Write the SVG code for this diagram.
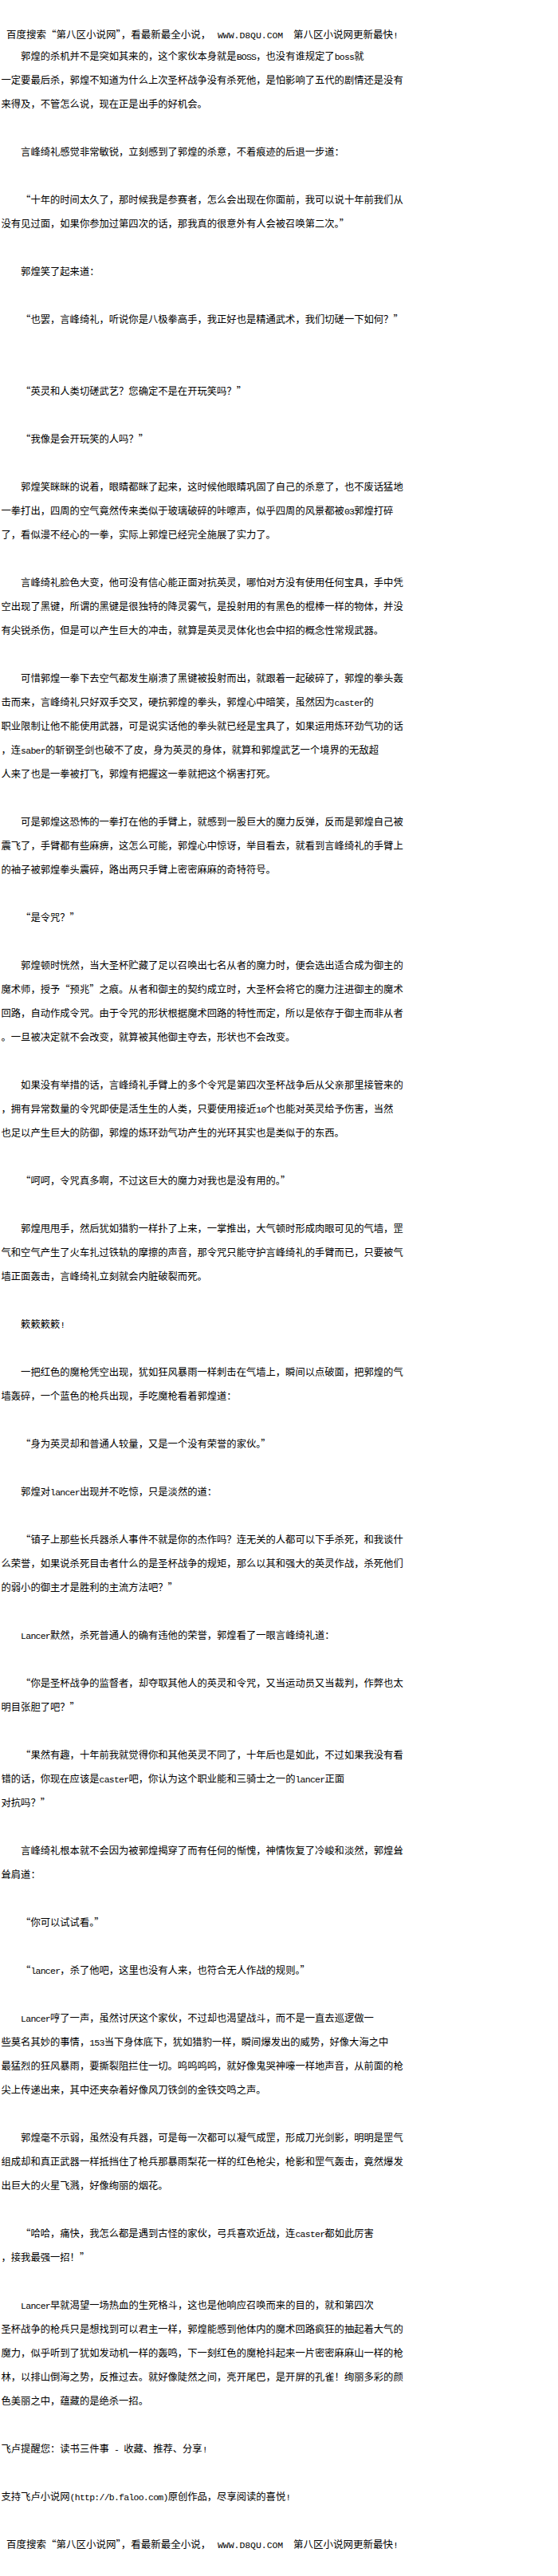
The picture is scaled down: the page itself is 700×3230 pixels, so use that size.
<svg xmlns="http://www.w3.org/2000/svg" width="700" height="3230" viewBox="0 0 700 3230">
<style>
text { font-family: "Noto Sans CJK SC", "Noto Sans CJK JP", sans-serif; font-size: 12.3px; fill: #000; }
.h { font-size: 12.5px; }
.m { font-family: "Liberation Mono", "DejaVu Sans Mono", monospace; font-size: 11.5px; letter-spacing: -0.75px; }
.hm { font-family: "Liberation Mono", "DejaVu Sans Mono", monospace; font-size: 11.5px; letter-spacing: -0.05px; }
</style>
<rect x="0" y="0" width="700" height="3230" fill="#fff"/>
<g id="header-top">
<text class="h" x="8" y="48">百度搜索“第八区小说网”，看最新最全小说，<tspan class="hm" x="273">WWW.D8QU.COM</tspan><tspan x="368">第八区小说网更新最快</tspan><tspan class="m">!</tspan></text>
</g>
<g id="p01">
<text x="26.1" y="75">郭煌的杀机并不是突如其来的，这个家伙本身就是<tspan class="m">BOSS</tspan>，也没有谁规定了<tspan class="m">boss</tspan>就</text>
<text x="1.5" y="105">一定要最后杀，郭煌不知道为什么上次圣杯战争没有杀死他，是怕影响了五代的剧情还是没有</text>
<text x="1.5" y="135">来得及，不管怎么说，现在正是出手的好机会。</text>
</g>
<g id="p02"><text x="26.1" y="195">言峰绮礼感觉非常敏锐，立刻感到了郭煌的杀意，不着痕迹的后退一步道：</text></g>
<g id="p03">
<text x="26.1" y="255">“十年的时间太久了，那时候我是参赛者，怎么会出现在你面前，我可以说十年前我们从</text>
<text x="1.5" y="285">没有见过面，如果你参加过第四次的话，那我真的很意外有人会被召唤第二次。”</text>
</g>
<g id="p04"><text x="26.1" y="345">郭煌笑了起来道：</text></g>
<g id="p05"><text x="26.1" y="405">“也罢，言峰绮礼，听说你是八极拳高手，我正好也是精通武术，我们切磋一下如何？”</text></g>
<g id="p06"><text x="26.1" y="495">“英灵和人类切磋武艺？您确定不是在开玩笑吗？”</text></g>
<g id="p07"><text x="26.1" y="555">“我像是会开玩笑的人吗？”</text></g>
<g id="p08">
<text x="26.1" y="615">郭煌笑眯眯的说着，眼睛都眯了起来，这时候他眼睛巩固了自己的杀意了，也不废话猛地</text>
<text x="1.5" y="645">一拳打出，四周的空气竟然传来类似于玻璃破碎的咔嚓声，似乎四周的风景都被<tspan class="m">03</tspan>郭煌打碎</text>
<text x="1.5" y="675">了，看似漫不经心的一拳，实际上郭煌已经完全施展了实力了。</text>
</g>
<g id="p09">
<text x="26.1" y="735">言峰绮礼脸色大变，他可没有信心能正面对抗英灵，哪怕对方没有使用任何宝具，手中凭</text>
<text x="1.5" y="765">空出现了黑键，所谓的黑键是很独特的降灵雾气，是投射用的有黑色的棍棒一样的物体，并没</text>
<text x="1.5" y="795">有尖锐杀伤，但是可以产生巨大的冲击，就算是英灵灵体化也会中招的概念性常规武器。</text>
</g>
<g id="p10">
<text x="26.1" y="855">可惜郭煌一拳下去空气都发生崩溃了黑键被投射而出，就跟着一起破碎了，郭煌的拳头轰</text>
<text x="1.5" y="885">击而来，言峰绮礼只好双手交叉，硬抗郭煌的拳头，郭煌心中暗笑，虽然因为<tspan class="m">caster</tspan>的</text>
<text x="1.5" y="915">职业限制让他不能使用武器，可是说实话他的拳头就已经是宝具了，如果运用炼环劲气功的话</text>
<text x="1.5" y="945">，连<tspan class="m">saber</tspan>的斩钢圣剑也破不了皮，身为英灵的身体，就算和郭煌武艺一个境界的无敌超</text>
<text x="1.5" y="975">人来了也是一拳被打飞，郭煌有把握这一拳就把这个祸害打死。</text>
</g>
<g id="p11">
<text x="26.1" y="1035">可是郭煌这恐怖的一拳打在他的手臂上，就感到一股巨大的魔力反弹，反而是郭煌自己被</text>
<text x="1.5" y="1065">震飞了，手臂都有些麻痹，这怎么可能，郭煌心中惊讶，举目看去，就看到言峰绮礼的手臂上</text>
<text x="1.5" y="1095">的袖子被郭煌拳头震碎，路出两只手臂上密密麻麻的奇特符号。</text>
</g>
<g id="p12"><text x="26.1" y="1155">“是令咒？”</text></g>
<g id="p13">
<text x="26.1" y="1215">郭煌顿时恍然，当大圣杯贮藏了足以召唤出七名从者的魔力时，便会选出适合成为御主的</text>
<text x="1.5" y="1245">魔术师，授予“预兆”之痕。从者和御主的契约成立时，大圣杯会将它的魔力注进御主的魔术</text>
<text x="1.5" y="1275">回路，自动作成令咒。由于令咒的形状根据魔术回路的特性而定，所以是依存于御主而非从者</text>
<text x="1.5" y="1305">。一旦被决定就不会改变，就算被其他御主夺去，形状也不会改变。</text>
</g>
<g id="p14">
<text x="26.1" y="1365">如果没有举措的话，言峰绮礼手臂上的多个令咒是第四次圣杯战争后从父亲那里接管来的</text>
<text x="1.5" y="1395">，拥有异常数量的令咒即使是活生生的人类，只要使用接近<tspan class="m">10</tspan>个也能对英灵给予伤害，当然</text>
<text x="1.5" y="1425">也足以产生巨大的防御，郭煌的炼环劲气功产生的光环其实也是类似于的东西。</text>
</g>
<g id="p15"><text x="26.1" y="1485">“呵呵，令咒真多啊，不过这巨大的魔力对我也是没有用的。”</text></g>
<g id="p16">
<text x="26.1" y="1545">郭煌甩甩手，然后犹如猎豹一样扑了上来，一掌推出，大气顿时形成肉眼可见的气墙，罡</text>
<text x="1.5" y="1575">气和空气产生了火车扎过铁轨的摩擦的声音，那令咒只能守护言峰绮礼的手臂而已，只要被气</text>
<text x="1.5" y="1605">墙正面轰击，言峰绮礼立刻就会内脏破裂而死。</text>
</g>
<g id="p17"><text x="26.1" y="1665">簌簌簌簌<tspan class="m">!</tspan></text></g>
<g id="p18">
<text x="26.1" y="1725">一把红色的魔枪凭空出现，犹如狂风暴雨一样刺击在气墙上，瞬间以点破面，把郭煌的气</text>
<text x="1.5" y="1755">墙轰碎，一个蓝色的枪兵出现，手吃魔枪看着郭煌道：</text>
</g>
<g id="p19"><text x="26.1" y="1815">“身为英灵却和普通人较量，又是一个没有荣誉的家伙。”</text></g>
<g id="p20"><text x="26.1" y="1875">郭煌对<tspan class="m">lancer</tspan>出现并不吃惊，只是淡然的道：</text></g>
<g id="p21">
<text x="26.1" y="1935">“镇子上那些长兵器杀人事件不就是你的杰作吗？连无关的人都可以下手杀死，和我谈什</text>
<text x="1.5" y="1965">么荣誉，如果说杀死目击者什么的是圣杯战争的规矩，那么以其和强大的英灵作战，杀死他们</text>
<text x="1.5" y="1995">的弱小的御主才是胜利的主流方法吧？”</text>
</g>
<g id="p22"><text x="26.1" y="2055"><tspan class="m">Lancer</tspan>默然，杀死普通人的确有违他的荣誉，郭煌看了一眼言峰绮礼道：</text></g>
<g id="p23">
<text x="26.1" y="2115">“你是圣杯战争的监督者，却夺取其他人的英灵和令咒，又当运动员又当裁判，作弊也太</text>
<text x="1.5" y="2145">明目张胆了吧？”</text>
</g>
<g id="p24">
<text x="26.1" y="2205">“果然有趣，十年前我就觉得你和其他英灵不同了，十年后也是如此，不过如果我没有看</text>
<text x="1.5" y="2235">错的话，你现在应该是<tspan class="m">caster</tspan>吧，你认为这个职业能和三骑士之一的<tspan class="m">lancer</tspan>正面</text>
<text x="1.5" y="2265">对抗吗？”</text>
</g>
<g id="p25">
<text x="26.1" y="2325">言峰绮礼根本就不会因为被郭煌揭穿了而有任何的惭愧，神情恢复了冷峻和淡然，郭煌耸</text>
<text x="1.5" y="2355">耸肩道：</text>
</g>
<g id="p26"><text x="26.1" y="2415">“你可以试试看。”</text></g>
<g id="p27"><text x="26.1" y="2475">“<tspan class="m">lancer</tspan>，杀了他吧，这里也没有人来，也符合无人作战的规则。”</text></g>
<g id="p28">
<text x="26.1" y="2535"><tspan class="m">Lancer</tspan>哼了一声，虽然讨厌这个家伙，不过却也渴望战斗，而不是一直去巡逻做一</text>
<text x="1.5" y="2565">些莫名其妙的事情，<tspan class="m">153</tspan>当下身体底下，犹如猎豹一样，瞬间爆发出的威势，好像大海之中</text>
<text x="1.5" y="2595">最猛烈的狂风暴雨，要撕裂阻拦住一切。呜呜呜呜，就好像鬼哭神嚎一样地声音，从前面的枪</text>
<text x="1.5" y="2625">尖上传递出来，其中还夹杂着好像风刀铁剑的金铁交鸣之声。</text>
</g>
<g id="p29">
<text x="26.1" y="2685">郭煌毫不示弱，虽然没有兵器，可是每一次都可以凝气成罡，形成刀光剑影，明明是罡气</text>
<text x="1.5" y="2715">组成却和真正武器一样抵挡住了枪兵那暴雨梨花一样的红色枪尖，枪影和罡气轰击，竟然爆发</text>
<text x="1.5" y="2745">出巨大的火星飞溅，好像绚丽的烟花。</text>
</g>
<g id="p30">
<text x="26.1" y="2805">“哈哈，痛快，我怎么都是遇到古怪的家伙，弓兵喜欢近战，连<tspan class="m">caster</tspan>都如此厉害</text>
<text x="1.5" y="2835">，接我最强一招！”</text>
</g>
<g id="p31">
<text x="26.1" y="2895"><tspan class="m">Lancer</tspan>早就渴望一场热血的生死格斗，这也是他响应召唤而来的目的，就和第四次</text>
<text x="1.5" y="2925">圣杯战争的枪兵只是想找到可以君主一样，郭煌能感到他体内的魔术回路疯狂的抽起着大气的</text>
<text x="1.5" y="2955">魔力，似乎听到了犹如发动机一样的轰鸣，下一刻红色的魔枪抖起来一片密密麻麻山一样的枪</text>
<text x="1.5" y="2985">林，以排山倒海之势，反推过去。就好像陡然之间，亮开尾巴，是开屏的孔雀！绚丽多彩的颜</text>
<text x="1.5" y="3015">色美丽之中，蕴藏的是绝杀一招。</text>
</g>
<g id="footer-note"><text x="1.5" y="3075">飞卢提醒您：读书三件事<tspan class="m"> - </tspan>收藏、推荐、分享<tspan class="m">!</tspan></text></g>
<g id="footer-support"><text x="1.5" y="3135">支持飞卢小说网<tspan class="m">(http://b.faloo.com)</tspan>原创作品，尽享阅读的喜悦<tspan class="m">!</tspan></text></g>
<g id="header-bottom">
<text class="h" x="8" y="3195">百度搜索“第八区小说网”，看最新最全小说，<tspan class="hm" x="273">WWW.D8QU.COM</tspan><tspan x="368">第八区小说网更新最快</tspan><tspan class="m">!</tspan></text>
</g>
</svg>
